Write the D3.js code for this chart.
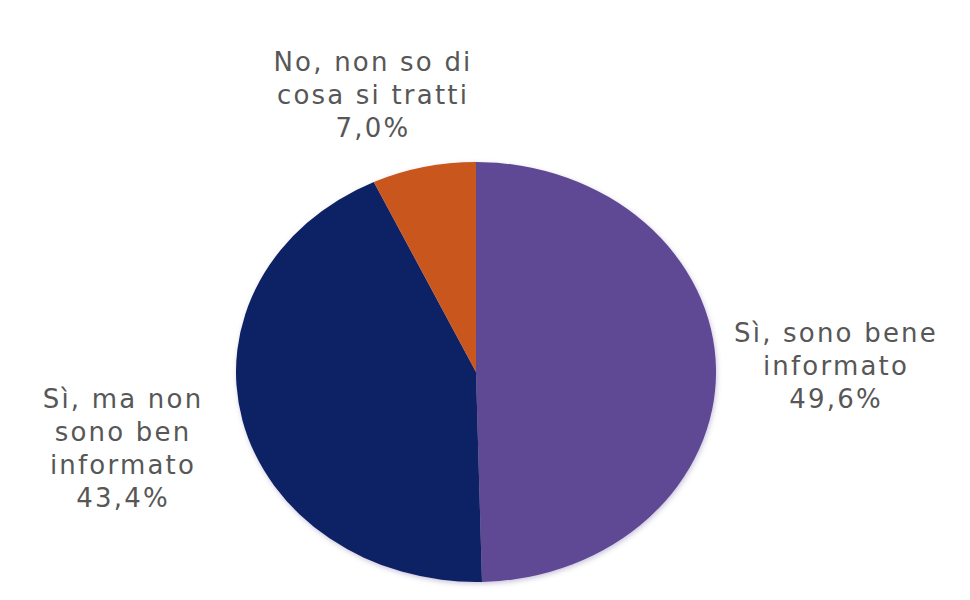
<!DOCTYPE html>
<html>
<head>
<meta charset="utf-8">
<script src="https://cdn.jsdelivr.net/npm/d3@7"></script>
<style>
  html, body { margin: 0; padding: 0; background: #ffffff; }
  svg { display: block; }
</style>
</head>
<body>
<script>
// Data
const categories = ["Sì, sono bene informato", "Sì, ma non sono ben informato", "No, non so di cosa si tratti"];
const values = [49.6, 43.4, 7.0];
const valueLabels = ["49,6%", "43,4%", "7,0%"];
const labelLines = [
  ["Sì, sono bene", "informato"],
  ["Sì, ma non", "sono ben", "informato"],
  ["No, non so di", "cosa si tratti"]
];
const colors = ["#5e4894", "#0f2465", "#c9561b"];

const W = 970, H = 600;
const cx = 476, cy = 372, rx = 240, ry = 210;
const labelPos = [
  { x: 836, y: 342 },
  { x: 123, y: 408 },
  { x: 373, y: 71 }
];
const lineH = 33;

const svg = d3.select("body").append("svg").attr("width", W).attr("height", H);

const defs = svg.append("defs");
const f = defs.append("filter").attr("id", "soft").attr("x", "-10%").attr("y", "-10%").attr("width", "120%").attr("height", "120%");
f.append("feGaussianBlur").attr("in", "SourceAlpha").attr("stdDeviation", 2.5).attr("result", "b");
f.append("feOffset").attr("in", "b").attr("dx", 1).attr("dy", 2).attr("result", "o");
f.append("feFlood").attr("flood-color", "#6a5a9a").attr("flood-opacity", 0.35);
f.append("feComposite").attr("in2", "o").attr("operator", "in").attr("result", "s");
const m = f.append("feMerge");
m.append("feMergeNode").attr("in", "s");
m.append("feMergeNode").attr("in", "SourceGraphic");

const pie = d3.pie().sort(null).value(d => d)(values);
const arc = d3.arc().innerRadius(0).outerRadius(ry);

const g = svg.append("g")
  .attr("transform", `translate(${cx},${cy}) scale(${rx / ry},1)`)
  .attr("filter", "url(#soft)");

g.selectAll("path").data(pie).join("path")
  .attr("d", arc)
  .attr("fill", (d, i) => colors[i]);

const lg = svg.append("g")
  .attr("font-family", "'DejaVu Sans', sans-serif")
  .attr("font-size", 26)
  .attr("letter-spacing", "2.2px")
  .attr("fill", "#575757")
  .attr("text-anchor", "middle");

categories.forEach((c, i) => {
  const lines = labelLines[i].concat([valueLabels[i]]);
  const t = lg.append("text").attr("x", labelPos[i].x).attr("y", labelPos[i].y);
  lines.forEach((ln, j) => {
    t.append("tspan").attr("x", labelPos[i].x).attr("y", labelPos[i].y + j * lineH).text(ln);
  });
});
</script>
</body>
</html>
